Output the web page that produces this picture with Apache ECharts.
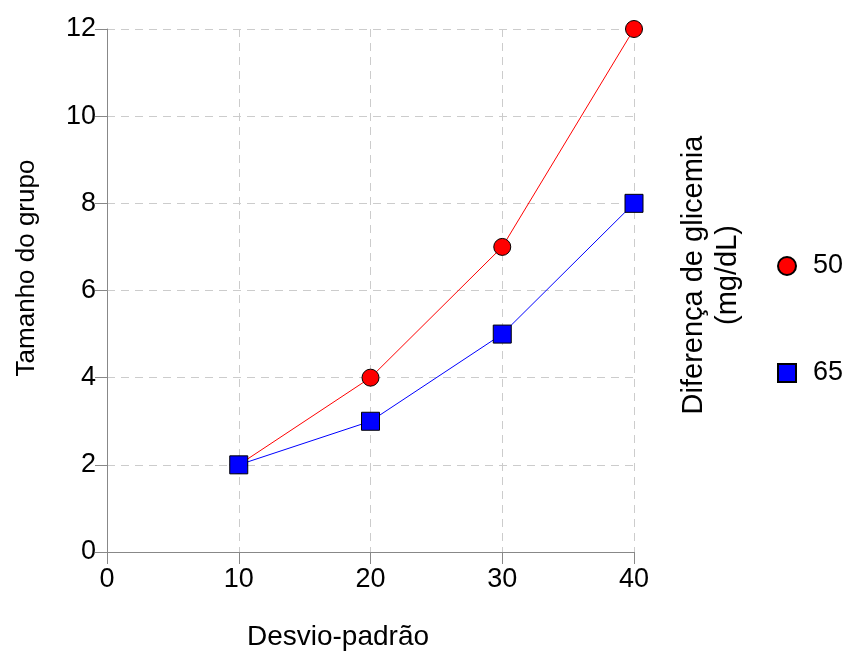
<!DOCTYPE html>
<html><head><meta charset="utf-8">
<script src="https://cdn.jsdelivr.net/npm/echarts@6/dist/echarts.min.js"></script>
<style>html,body{margin:0;padding:0;background:#fff}#c{width:849px;height:653px}</style>
</head><body><div id="c"></div>
<script>
const xValues = [10, 20, 30, 40];
const series50 = [2, 4, 7, 12];
const series65 = [2, 3, 5, 8];
const xTicks = [0, 10, 20, 30, 40];
const yTicks = [0, 2, 4, 6, 8, 10, 12];
const FONT = 'Liberation Sans, Arial, sans-serif';
const chart = echarts.init(document.getElementById('c'));
chart.setOption({
  backgroundColor: '#fff',
  animation: false,
  grid: {left: 107, right: 215, top: 29, bottom: 101},
  xAxis: {
    type: 'value', min: xTicks[0], max: xTicks[xTicks.length-1], interval: 10,
    axisLine: {show: true, lineStyle: {color: '#888', width: 1}},
    axisTick: {show: true, length: 12, lineStyle: {color: '#888'}},
    axisLabel: {fontSize: 27, color: '#000', fontFamily: FONT, margin: 14},
    splitLine: {show: true, lineStyle: {color: '#ccc', type: [8, 6], width: 1}}
  },
  yAxis: {
    type: 'value', min: yTicks[0], max: yTicks[yTicks.length-1], interval: 2,
    axisLine: {show: true, lineStyle: {color: '#888', width: 1}},
    axisTick: {show: true, length: 12, lineStyle: {color: '#888'}},
    axisLabel: {fontSize: 27, color: '#000', fontFamily: FONT, margin: 11},
    splitLine: {show: true, lineStyle: {color: '#ccc', type: [8, 6], width: 1}}
  },
  legend: {
    orient: 'vertical', left: 772, top: 246, itemGap: 77,
    itemWidth: 18, itemHeight: 18,
    textStyle: {fontSize: 27, lineHeight: 30, color: '#000', fontFamily: FONT, padding: [0,0,0,12]},
    data: [{name: '50', icon: 'circle'}, {name: '65', icon: 'rect'}]
  },
  graphic: [
    {type: 'text', x: 338, y: 637, style: {text: 'Desvio-padrão', font: '28px ' + FONT, fill: '#000', align: 'center', verticalAlign: 'middle'}},
    {type: 'text', x: 27, y: 268, rotation: Math.PI/2, style: {text: 'Tamanho do grupo', font: '26px ' + FONT, fill: '#000', align: 'center', verticalAlign: 'middle'}},
    {type: 'text', x: 711, y: 275, rotation: Math.PI/2, style: {text: 'Diferença de glicemia\n(mg/dL)', font: '29px ' + FONT, fill: '#000', align: 'center', verticalAlign: 'middle', lineHeight: 34}}
  ],
  series: [
    {name: '50', type: 'line', data: xValues.map((x, i) => [x, series50[i]]),
     symbol: 'circle', symbolSize: 17,
     lineStyle: {color: '#ff0000', width: 1},
     itemStyle: {color: '#ff0000', borderColor: '#000', borderWidth: 1}},
    {name: '65', type: 'line', data: xValues.map((x, i) => [x, series65[i]]),
     symbol: 'rect', symbolSize: 18,
     lineStyle: {color: '#0000ff', width: 1},
     itemStyle: {color: '#0000ff', borderColor: '#000', borderWidth: 1}}
  ]
});
</script></body></html>
